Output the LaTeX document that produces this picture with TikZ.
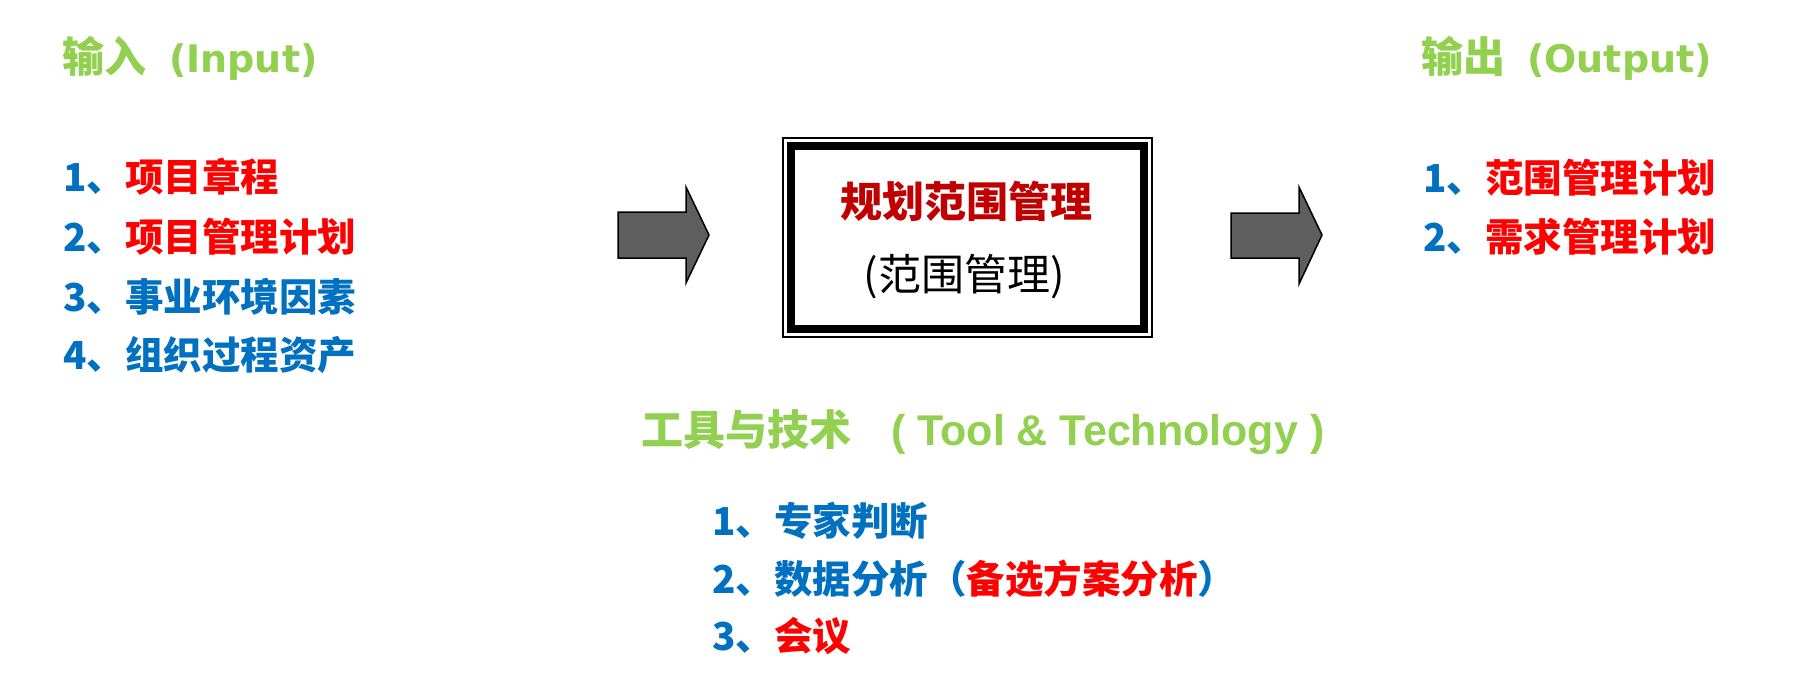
\documentclass[tikz,border=0pt]{standalone}
\usepackage{fontspec}
\setmainfont{Noto Sans CJK SC}
\newfontfamily\lat{Liberation Sans}
\newfontfamily\latw{DejaVu Sans}
\definecolor{tgreen}{HTML}{92D050}
\definecolor{tblue}{HTML}{0070C0}
\definecolor{tred}{HTML}{FF0000}
\definecolor{tdred}{HTML}{C00000}
\definecolor{agray}{HTML}{5E5E5E}
\newcommand{\latio}[1]{{\latw\bfseries\fontsize{38}{42}\selectfont #1}}
\newcommand{\latto}[1]{{\lat\bfseries\fontsize{43}{46}\selectfont #1}}
\begin{document}
\begin{tikzpicture}[x=1pt,y=-1pt,
  ttl/.style={inner sep=0pt,anchor=west,text=tgreen,font=\bfseries\fontsize{42}{44}\selectfont},
  itm/.style={inner sep=0pt,anchor=west,text=tblue,font=\bfseries\fontsize{38.5}{42}\selectfont},
  blockarrow/.style={fill=agray,draw=black,line width=1.5pt,line join=miter}]
\useasboundingbox[fill=white] (0,0) rectangle (1797,683);

% input
\node[ttl] (intitle) at (62,58) {输入\hspace{23pt}\latio{(Input)}};
\node[itm] (in1) at (63,177) {1、\textcolor{tred}{项目章程}};
\node[itm] (in2) at (63,237) {2、\textcolor{tred}{项目管理计划}};
\node[itm] (in3) at (63,297) {3、事业环境因素};
\node[itm] (in4) at (63,355) {4、组织过程资产};

% arrows
\draw[blockarrow] (618,212) -- (686,212) -- (686,187) -- (709,235) -- (686,283) -- (686,258) -- (618,258) -- cycle;
\draw[blockarrow] (1231,213) -- (1299,213) -- (1299,187) -- (1322,235) -- (1299,284) -- (1299,258) -- (1231,258) -- cycle;

% process box
\node[draw=black,line width=1.5pt,minimum width=369pt,minimum height=199pt,inner sep=0pt] (box) at (967.5,237.5) {};
\draw[line width=8pt] ([shift={(9,9)}]box.north west) rectangle ([shift={(-9,-9)}]box.south east);
\node[inner sep=0pt,text=tdred,font=\bfseries\fontsize{42}{46}\selectfont] (boxtitle) at (966,201) {规划范围管理};
\node[inner sep=0pt,text=black,font=\fontsize{43}{47}\selectfont] (boxsub) at (964.5,277) {(范围管理)};

% output
\node[ttl] (outtitle) at (1421,58) {输出\hspace{22pt}\latio{(Output)}};
\node[itm] (out1) at (1423,178) {1、\textcolor{tred}{范围管理计划}};
\node[itm] (out2) at (1423,237) {2、\textcolor{tred}{需求管理计划}};

% tools
\node[ttl] (tooltitle) at (641,432) {工具与技术\hspace{40pt}\latto{( Tool \& Technology )}};
\node[itm] (tool1) at (712,521) {1、专家判断};
\node[itm] (tool2) at (712,579) {2、数据分析（\textcolor{tred}{备选方案分析}）};
\node[itm] (tool3) at (712,636) {3、\textcolor{tred}{会议}};
\end{tikzpicture}
\end{document}
